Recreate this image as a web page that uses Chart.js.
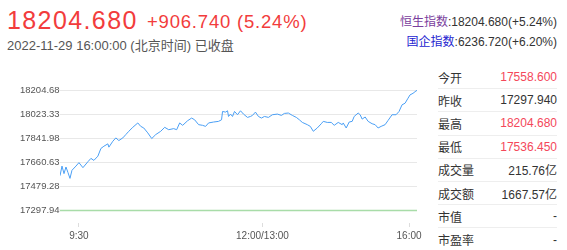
<!DOCTYPE html>
<html>
<head>
<meta charset="utf-8">
<script src="https://cdn.jsdelivr.net/npm/chart.js@4.4.0/dist/chart.umd.min.js"></script>
<style>
  body { margin: 0; width: 567px; height: 250px; overflow: hidden; background: #fff;
         font-family: "Liberation Sans", Arial, "Noto Sans CJK SC", sans-serif; color: #333; }
  .abs { position: absolute; line-height: 1; white-space: nowrap; }
  .red { color: #f23c3c; }
  #board { position: absolute; left: 438px; top: 66px; width: 119px; font-size: 12px; }
  #board .row { height: 23.2px; display: flex; justify-content: space-between; align-items: center;
                border-bottom: 1px solid #eeeeee; box-sizing: border-box; }
  #board .row:last-child { border-bottom: none; }
  #board .up { color: #f4475a; }
  #wrap { position: absolute; left: 0; top: 60px; width: 430px; height: 190px; }
</style>
</head>
<body>
<div class="abs red" style="left:7px; top:8.1px; font-size:25px; letter-spacing:1.4px;">18204.680</div>
<div class="abs red" style="left:147px; top:12.6px; font-size:18.5px; letter-spacing:0.8px;">+906.740 (5.24%)</div>
<div class="abs" style="left:7px; top:39.3px; font-size:13px; color:#555;">2022-11-29 16:00:00 (北京时间) 已收盘</div>
<div class="abs" style="right:10px; top:15.8px; font-size:12px;"><span style="color:#7a3e9d">恒生指数</span>:18204.680(+5.24%)</div>
<div class="abs" style="right:10px; top:35.8px; font-size:12px;"><span style="color:#2424d0">国企指数</span>:6236.720(+6.20%)</div>

<div id="board"></div>

<div id="wrap"><canvas id="minuteChart"></canvas></div>

<script>
// 分时数据
const times = [0,2,4,6,8,10,12,16,19,23,28,31,34,38,41,44,48,49,53,56,59,63,66,69,73,78,81,84,88,92,96,101,105,109,114,117,120,
  123,128,132,135,139,143,146,149,154,159,162,163,166,168,169,171,173,175,178,181,184,188,191,193,196,199,202,205,209,213,218,222,225,229,233,237,240,
  243,248,251,254,258,262,264,268,272,275,279,283,284,287,290,293,295,299,301,303,306,309,313,316,319,322,326,329,333,337,340,343,346,349,351,354,357,358];
const prices = [17560,17633,17576,17626,17584,17540,17601,17633,17659,17621,17666,17691,17676,17708,17766,17783,17801,17776,17821,17846,
  17826,17846,17871,17896,17926,17959,17933,17921,17884,17841,17871,17896,17926,17908,17916,17908,17959,
  17941,17976,17996,17983,17946,17941,17933,17959,17966,17971,17983,18046,18041,18051,18008,18026,18008,18046,18021,18051,
  18026,18001,18008,18016,18041,18008,17996,18008,18001,18021,18026,18016,18031,18034,18016,18001,17983,
  17963,17946,17933,17896,17921,17953,17971,17963,17963,17941,17963,17946,17959,17921,17966,17971,18008,18034,18021,17988,
  18004,17971,17953,17946,17921,17933,17946,17978,18021,18021,18046,18096,18108,18146,18171,18183,18201,18204.68];
const prevClose = 17297.94;
const yTicks = [18204.680, 18023.332, 17841.984, 17660.636, 17479.288, 17297.940];
const xTickPos = [19, 203, 350];
const xTickLabels = ['9:30', '12:00/13:00', '16:00'];

const boardLabels = ['今开', '昨收', '最高', '最低', '成交量', '成交额', '市值', '市盈率'];
const boardValues = ['17558.600', '17297.940', '18204.680', '17536.450', '215.76亿', '1667.57亿', '-', '-'];
const boardUp = [true, false, true, true, false, false, false, false];

const board = document.getElementById('board');
boardLabels.forEach((l, i) => {
  const row = document.createElement('div');
  row.className = 'row';
  row.innerHTML = '<span>' + l + '</span><span' + (boardUp[i] ? ' class="up"' : '') + '>' + boardValues[i] + '</span>';
  board.appendChild(row);
});

// y轴标签被图表区遮住一部分
const clipYLabels = {
  id: 'clipYLabels',
  beforeDraw(chart) {
    const s = chart.scales.y;
    if (s._clipped) return;
    const orig = s.drawLabels;
    s.drawLabels = function (area) {
      const c = this.ctx;
      c.save();
      c.beginPath();
      c.rect(0, 0, chart.chartArea.left, chart.height);
      c.clip();
      orig.call(this, area);
      c.restore();
    };
    s._clipped = true;
  }
};

new Chart(document.getElementById('minuteChart'), {
  type: 'line',
  data: {
    datasets: [{
      data: times.map((t, i) => ({ x: t, y: prices[i] })),
      borderColor: '#4a9ff5',
      borderWidth: 1,
      pointRadius: 0,
      tension: 0
    }, {
      data: [{ x: 0, y: prevClose }, { x: 358, y: prevClose }],
      borderColor: '#a8dca8',
      borderWidth: 1.5,
      pointRadius: 0
    }]
  },
  options: {
    responsive: true,
    maintainAspectRatio: false,
    animation: false,
    layout: { padding: { left: 20, right: 13, top: 24, bottom: 0 } },
    plugins: { legend: { display: false }, tooltip: { enabled: false } },
    scales: {
      x: {
        type: 'linear', min: 0, max: 358,
        afterBuildTicks: s => { s.ticks = xTickPos.map(v => ({ value: v })); },
        afterFit: s => { s.height = 27; },
        ticks: {
          autoSkip: false, maxRotation: 0, padding: 3,
          color: '#555', font: { size: 10, family: '"Liberation Sans", Arial' },
          callback: (v, i) => xTickLabels[i]
        },
        grid: { drawOnChartArea: false, tickLength: 4, color: '#dddddd' },
        border: { display: false }
      },
      y: {
        min: 17202.7, max: 18253.4,
        afterBuildTicks: s => { s.ticks = yTicks.map(v => ({ value: v })); },
        afterFit: s => { s.width = 40; },
        ticks: {
          crossAlign: 'far', padding: 0,
          color: '#555', font: { size: 9.5, family: '"Liberation Sans", Arial' },
          callback: v => v.toFixed(3)
        },
        grid: { drawTicks: false, color: '#e8e8e8' },
        border: { display: false }
      }
    }
  },
  plugins: [clipYLabels]
});
</script>
</body>
</html>
